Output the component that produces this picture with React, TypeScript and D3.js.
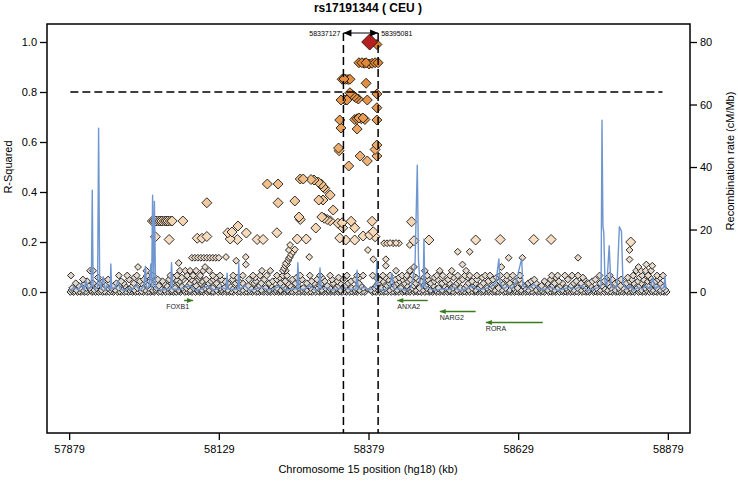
import React, { useEffect, useRef } from 'react';
import * as d3 from 'd3';

const title = 'rs17191344 ( CEU )';
const xLabel = 'Chromosome 15 position (hg18) (kb)';
const yLabel = 'R-Squared';
const yRecLabel = 'Recombination rate (cM/Mb)';

const xTicks = [57879, 58129, 58379, 58629, 58879];
const r2Ticks = [0, 0.2, 0.4, 0.6, 0.8, 1.0];
const recTicks = [0, 20, 40, 60, 80];

const indexSnp: [number, number] = [58381, 1.0];
const regionBounds = [58337.127, 58395.081];
const regionLabels = ['58337127', '58395081'];
const r2Threshold = 0.8;
const thresholdSpan = [57881, 58870];

// SNPs with r2 >= 0.2 : [position kb, r2]
const linkedSnps: [number, number][] = [
  [58393, 0.99],
  [58363, 0.917], [58368, 0.917], [58372, 0.915], [58375, 0.917], [58380, 0.912], [58385, 0.915], [58390, 0.917], [58395, 0.917],
  [58335, 0.851], [58338, 0.852], [58341, 0.851], [58345, 0.85], [58348, 0.851],
  [58375, 0.835], [58393, 0.792],
  [58348, 0.797], [58351, 0.79], [58355, 0.783], [58358, 0.777], [58362, 0.772], [58340, 0.768], [58343, 0.768], [58333, 0.768], [58377, 0.768],
  [58393, 0.737],
  [58356, 0.69], [58360, 0.693], [58363, 0.696], [58367, 0.693], [58370, 0.696], [58373, 0.69], [58393, 0.688], [58331, 0.688],
  [58333, 0.656], [58360, 0.652],
  [58393, 0.588], [58329, 0.576], [58330, 0.565], [58390, 0.57],
  [58365, 0.544], [58393, 0.544], [58377, 0.524], [58346, 0.504],
  [58265, 0.452], [58270, 0.452], [58283, 0.45], [58288, 0.448], [58295, 0.44], [58300, 0.432], [58303, 0.42], [58306, 0.414], [58210, 0.432], [58228, 0.432],
  [58315, 0.388], [58303, 0.368], [58320, 0.328], [58256, 0.364], [58228, 0.357], [58109, 0.357], [58296, 0.368],
  [58263, 0.3], [58265, 0.29], [58301, 0.3], [58305, 0.295], [58310, 0.29], [58315, 0.285], [58291, 0.256], [58335, 0.277], [58350, 0.283],
  [58336, 0.257], [58356, 0.257], [58385, 0.283], [58387, 0.241], [58328, 0.275],
  [58331, 0.216], [58341, 0.208], [58356, 0.208], [58370, 0.224], [58381, 0.228], [58390, 0.221], [58260, 0.212], [58275, 0.212], [58226, 0.237],
  [58144, 0.237], [58151, 0.24], [58148, 0.212], [58160, 0.21], [58161, 0.264], [58175, 0.236], [58193, 0.21], [58203, 0.21],
  [58093, 0.215], [58101, 0.215], [58109, 0.222],
  [58018, 0.284], [58021, 0.284], [58024, 0.284], [58028, 0.284], [58031, 0.284], [58034, 0.284], [58038, 0.284], [58041, 0.284],
  [58044, 0.284], [58048, 0.284], [58051, 0.284], [58069, 0.284],
  [58023, 0.221], [58046, 0.21],
  [58451, 0.281], [58455, 0.205], [58480, 0.208], [58558, 0.208], [58599, 0.21], [58655, 0.21], [58684, 0.21], [58817, 0.2],
];

// SNPs with 0.1 < r2 < 0.2
const midSnps: [number, number][] = [
  [58448, 0.188], [58405, 0.195], [58410, 0.195], [58415, 0.196], [58420, 0.195], [58425, 0.196], [58430, 0.195],
  [58378, 0.168], [58280, 0.14], [58528, 0.161], [58548, 0.161], [58613, 0.137], [58636, 0.137], [58729, 0.137],
  [58387, 0.131], [58408, 0.131], [58815, 0.168], [58815, 0.13], [58062, 0.116],
  [58084, 0.137], [58089, 0.137], [58094, 0.137], [58099, 0.137], [58104, 0.137], [58109, 0.137], [58114, 0.137],
  [58119, 0.137], [58124, 0.137], [58129, 0.137], [58141, 0.14], [58158, 0.125], [58174, 0.14],
  [58236, 0.085], [58238, 0.095], [58240, 0.105], [58241, 0.115], [58243, 0.11], [58245, 0.125], [58246, 0.135],
  [58248, 0.14], [58250, 0.15], [58253, 0.16], [58256, 0.17], [58248, 0.188], [58246, 0.168],
  [57994, 0.1], [58106, 0.1], [58174, 0.11], [58408, 0.105], [58455, 0.1], [58536, 0.11], [58601, 0.1],
  [58830, 0.1], [58843, 0.11], [58853, 0.105],
];

// low r2 SNPs, grouped by the level they sit on
const lowRows: { r2: number; pos: number[] }[] = [
  { r2: 0.0, pos: [57881, 57886, 57893, 57899, 57904, 57910, 57917, 57923, 57928, 57935, 57941, 57946, 57953, 57960, 57966, 57971, 57978, 57985, 57990, 57996, 58003, 58009, 58015, 58021, 58028, 58034, 58040, 58047, 58053, 58058, 58065, 58072, 58078, 58084, 58090, 58097, 58103, 58110, 58116, 58121, 58128, 58135, 58141, 58147, 58153, 58160, 58166, 58172, 58178, 58185, 58191, 58197, 58204, 58210, 58216, 58222, 58229, 58235, 58241, 58247, 58254, 58260, 58266, 58273, 58279, 58285, 58291, 58298, 58304, 58310, 58316, 58323, 58329, 58335, 58342, 58348, 58354, 58360, 58367, 58373, 58386, 58392, 58398, 58405, 58411, 58417, 58423, 58430, 58436, 58442, 58448, 58455, 58461, 58467, 58473, 58480, 58486, 58492, 58498, 58505, 58511, 58517, 58523, 58530, 58536, 58542, 58548, 58555, 58561, 58567, 58573, 58580, 58586, 58592, 58598, 58605, 58611, 58617, 58623, 58630, 58636, 58642, 58648, 58655, 58661, 58667, 58673, 58680, 58686, 58692, 58698, 58705, 58711, 58717, 58723, 58730, 58736, 58742, 58748, 58755, 58761, 58767, 58773, 58780, 58786, 58792, 58798, 58805, 58811, 58817, 58823, 58830, 58836, 58842, 58848, 58855, 58861, 58867, 58873, 58877] },
  { r2: 0.003, pos: [57888, 57896, 57907, 57919, 57931, 57938, 57950, 57963, 57974, 57982, 57993, 58000, 58012, 58019, 58031, 58044, 58050, 58062, 58075, 58081, 58094, 58100, 58113, 58119, 58132, 58144, 58150, 58163, 58175, 58182, 58194, 58201, 58213, 58225, 58232, 58244, 58251, 58263, 58270, 58282, 58295, 58301, 58313, 58320, 58332, 58339, 58351, 58357, 58370, 58384, 58389, 58401, 58408, 58420, 58426, 58439, 58445, 58458, 58464, 58477, 58483, 58495, 58502, 58514, 58520, 58533, 58539, 58552, 58558, 58570, 58577, 58589, 58595, 58608, 58614, 58627, 58633, 58645, 58652, 58664, 58670, 58683, 58689, 58702, 58708, 58720, 58727, 58739, 58745, 58758, 58764, 58777, 58783, 58795, 58802, 58814, 58820, 58833, 58839, 58852, 58858, 58870] },
  { r2: 0.008, pos: [57883, 57891, 57902, 57915, 57921, 57933, 57948, 57956, 57968, 57980, 57988, 58006, 58018, 58024, 58038, 58051, 58062, 58070, 58081, 58093, 58101, 58113, 58125, 58133, 58144, 58157, 58169, 58180, 58188, 58200, 58213, 58224, 58232, 58244, 58257, 58268, 58276, 58288, 58301, 58312, 58320, 58332, 58345, 58356, 58364, 58383, 58395, 58403, 58414, 58427, 58439, 58447, 58458, 58470, 58483, 58491, 58502, 58514, 58527, 58535, 58546, 58558, 58571, 58579, 58590, 58602, 58615, 58623, 58634, 58646, 58659, 58667, 58678, 58690, 58703, 58711, 58722, 58734, 58747, 58755, 58766, 58778, 58791, 58799, 58810, 58822, 58835, 58843, 58854, 58866, 58875] },
  { r2: 0.016, pos: [57884, 57897, 57908, 57913, 57925, 57937, 57944, 57950, 57962, 57975, 57982, 57993, 58001, 58012, 58025, 58031, 58044, 58056, 58068, 58075, 58087, 58094, 58106, 58119, 58131, 58138, 58150, 58163, 58175, 58182, 58194, 58207, 58219, 58226, 58238, 58250, 58263, 58270, 58282, 58295, 58307, 58314, 58326, 58338, 58351, 58358, 58370, 58389, 58401, 58408, 58420, 58433, 58445, 58452, 58464, 58476, 58489, 58496, 58508, 58520, 58533, 58540, 58552, 58564, 58577, 58584, 58596, 58608, 58621, 58628, 58640, 58652, 58665, 58672, 58684, 58696, 58709, 58716, 58728, 58740, 58753, 58760, 58772, 58784, 58797, 58804, 58816, 58828, 58841, 58848, 58860, 58871] },
  { r2: 0.025, pos: [57895, 57911, 57927, 57940, 57953, 57972, 57985, 58010, 58029, 58042, 58066, 58078, 58091, 58110, 58129, 58147, 58166, 58178, 58197, 58216, 58235, 58248, 58261, 58280, 58298, 58310, 58329, 58341, 58366, 58392, 58410, 58423, 58443, 58455, 58474, 58487, 58505, 58524, 58543, 58555, 58567, 58586, 58605, 58618, 58637, 58655, 58668, 58687, 58700, 58718, 58737, 58750, 58769, 58781, 58800, 58813, 58832, 58845, 58858, 58869] },
  { r2: 0.035, pos: [57890, 57905, 57919, 57931, 57958, 57970, 57987, 58000, 58018, 58037, 58050, 58062, 58081, 58099, 58112, 58125, 58144, 58157, 58169, 58188, 58200, 58213, 58232, 58244, 58257, 58276, 58288, 58301, 58320, 58332, 58345, 58363, 58395, 58414, 58427, 58439, 58458, 58470, 58483, 58502, 58514, 58527, 58546, 58558, 58571, 58590, 58602, 58615, 58634, 58646, 58659, 58678, 58690, 58703, 58722, 58734, 58747, 58766, 58778, 58791, 58810, 58822, 58835, 58854, 58866] },
  { r2: 0.043, pos: [57909, 57936, 57966, 57997, 58014, 58035, 58064, 58088, 58101, 58116, 58139, 58162, 58191, 58219, 58240, 58263, 58284, 58306, 58327, 58350, 58403, 58418, 58431, 58445, 58467, 58489, 58508, 58531, 58552, 58579, 58598, 58625, 58651, 58673, 58697, 58726, 58753, 58773, 58796, 58816, 58829, 58845, 58859] },
  { r2: 0.05, pos: [57902, 57944, 57979, 58004, 58027, 58046, 58058, 58070, 58083, 58095, 58108, 58120, 58133, 58152, 58179, 58205, 58226, 58252, 58268, 58293, 58318, 58336, 58357, 58397, 58412, 58424, 58436, 58449, 58461, 58478, 58494, 58512, 58536, 58560, 58587, 58610, 58631, 58656, 58683, 58712, 58739, 58758, 58786, 58801, 58819, 58838, 58851, 58863] },
  { r2: 0.058, pos: [57927, 57988, 58017, 58053, 58067, 58079, 58097, 58124, 58160, 58190, 58231, 58259, 58301, 58329, 58364, 58392, 58407, 58430, 58441, 58458, 58472, 58489, 58521, 58545, 58569, 58593, 58616, 58692, 58737, 58779, 58812, 58832, 58849, 58866] },
  { r2: 0.066, pos: [57882, 57962, 57976, 57992, 58009, 58019, 58048, 58059, 58076, 58086, 58098, 58119, 58131, 58153, 58169, 58186, 58198, 58209, 58226, 58236, 58243, 58265, 58281, 58298, 58315, 58343, 58360, 58370, 58386, 58403, 58415, 58435, 58443, 58453, 58477, 58493, 58503, 58515, 58528, 58540, 58548, 58560, 58574, 58582, 58599, 58610, 58620, 58632, 58685, 58695, 58707, 58719, 58729, 58765, 58782, 58821, 58836, 58846, 58861, 58871] },
  { r2: 0.085, pos: [57914, 57919, 58008, 58064, 58073, 58081, 58091, 58103, 58113, 58201, 58215, 58241, 58425, 58448, 58473, 58498, 58518, 58542, 58826, 58834, 58842, 58851] },
];

const genes = [
  { name: 'FOXB1', start: 58071, end: 58086, strand: '+', row: 0 },
  { name: 'ANXA2', start: 58427, end: 58478, strand: '-', row: 0 },
  { name: 'NARG2', start: 58498, end: 58558, strand: '-', row: 1 },
  { name: 'RORA', start: 58575, end: 58670, strand: '-', row: 2 },
];

// recombination rate: [position kb, cM/Mb]
const recRate: [number, number][] = [
  [57881, 0.5], [57887, 1.5], [57894, 0.8], [57901, 2.5], [57904, 0.5], [57907, 3.6], [57911, 1], [57916, 1.5], [57917.6, 32.6],
  [57919, 2], [57922, 1], [57926.5, 1.5], [57928.2, 52.4], [57930, 3], [57932, 1], [57936, 4.9], [57939, 0.5], [57942, 2],
  [57947.5, 1], [57948.6, 9], [57950, 1], [57956, 1.5], [57961, 3.6], [57964, 1], [57971, 0.5], [57977.5, 1.2], [57984, 0.8],
  [57991, 2], [57997.5, 0.6], [58004, 2], [58006.4, 8.3], [58008, 1], [58012.6, 2], [58015.4, 9], [58016.7, 1], [58018.4, 31],
  [58020, 2], [58021.4, 29], [58023.4, 1.5], [58027.6, 1], [58034, 0.5], [58041, 1], [58048.4, 1], [58050, 9.4], [58051.8, 1],
  [58061, 0.8], [58071, 1.5], [58081, 2], [58091, 0.5], [58101, 1], [58111, 2], [58121, 0.6], [58131, 1.5], [58141, 1],
  [58142.8, 6], [58144.4, 1], [58152.8, 0.8], [58161, 1], [58162.3, 9.3], [58163.6, 1], [58173, 2], [58181, 0.5], [58191, 1],
  [58201, 1.5], [58211, 0.6], [58221, 1], [58231, 2], [58241, 0.5], [58251, 1], [58259.6, 1], [58261, 9.4], [58263, 1],
  [58271, 0.8], [58281, 2], [58291, 0.5], [58296, 1], [58298, 7.7], [58300, 1], [58308, 1.5], [58318, 0.6], [58328, 1],
  [58338, 1.5], [58348, 0.8], [58358, 1], [58360, 7], [58361.5, 1], [58371.5, 1.5], [58381.5, 0.8], [58391.5, 2], [58393, 10],
  [58395, 1], [58405, 0.5], [58415, 2], [58418, 6], [58421.5, 1], [58431.5, 1], [58441.6, 0.5], [58450, 1.5], [58456.6, 8],
  [58460.5, 40.6], [58462.5, 10], [58465, 3], [58468, 1], [58470.5, 2], [58471.6, 17], [58473, 2], [58481.6, 1], [58491.6, 0.5],
  [58501.6, 1], [58511.7, 0.8], [58521.7, 1.5], [58531.7, 0.5], [58541.7, 1], [58551.8, 2], [58561.8, 0.8], [58571.8, 1],
  [58581.8, 1.5], [58591.8, 3], [58596.8, 10.6], [58598.5, 3], [58605, 1], [58612, 2], [58618.5, 1], [58625, 3], [58634.8, 10.6],
  [58637, 2], [58645, 1], [58655, 2.5], [58665, 0.8], [58675, 1], [58685, 1.5], [58695, 0.5], [58705, 1], [58715, 1.5],
  [58725, 1], [58735, 2], [58745, 0.5], [58755, 1], [58765, 1.5], [58767.5, 2], [58769, 55], [58770.6, 21], [58772, 19],
  [58774, 3], [58777, 2], [58781, 14.8], [58784, 2], [58789, 1], [58794, 2], [58798, 20.9], [58801.5, 19.5], [58804, 3],
  [58809, 1], [58815.5, 2], [58822, 0.5], [58829, 1.5], [58836, 1], [58842, 2], [58849, 1], [58854, 4.5], [58857.5, 1],
  [58862.5, 2], [58867.5, 1], [58872.5, 1.5], [58874, 5], [58876, 1],
];

const FONT = '"Liberation Sans", Arial, Helvetica, sans-serif';

const diamond = (cx: number, cy: number, h: number) =>
  `M${cx},${cy - h}L${cx + h},${cy}L${cx},${cy + h}L${cx - h},${cy}Z`;

const App = () => {
  const svgRef = useRef<SVGSVGElement>(null);

  useEffect(() => {
    const svg = d3.select(svgRef.current);
    svg.selectAll('*').remove();

    const box = { left: 47, right: 690, top: 24, bottom: 433 };

    const x = d3.scaleLinear().domain([57842, 58916]).range([box.left, box.right]);
    const y = d3.scaleLinear().domain([-0.564, 1.072]).range([box.bottom, box.top]);
    const yRec = d3.scaleLinear().domain([-45.1, 85.76]).range([box.bottom, box.top]);

    const color = d3.scaleLinear<string>()
      .domain([0, 0.2, 0.45, 0.7, 0.95])
      .range(['#dcd7d2', '#f7dfc4', '#f0bd86', '#e89b52', '#df832f']);

    svg.append('rect').attr('width', 738).attr('height', 481).attr('fill', '#fff');

    // points, lowest r2 first
    const points: [number, number][] = [
      ...lowRows.flatMap(r => r.pos.map(p => [p, r.r2] as [number, number])),
      ...midSnps,
      ...linkedSnps,
    ].sort((a, b) => a[1] - b[1]);

    svg.append('g')
      .selectAll('path')
      .data(points)
      .enter().append('path')
      .attr('d', d => diamond(x(d[0]), y(d[1]), d[1] >= 0.2 ? 5 : 3.4))
      .attr('fill', d => color(d[1]))
      .attr('stroke', d => (d[1] >= 0.2 ? '#1a1a1a' : '#2a2a2a'))
      .attr('stroke-width', d => (d[1] >= 0.2 ? 0.9 : 1));

    // index SNP
    svg.append('path')
      .attr('d', diamond(x(indexSnp[0]), y(indexSnp[1]), 8))
      .attr('fill', '#b3201f')
      .attr('stroke', '#2a0a0a')
      .attr('stroke-width', 0.9);

    // recombination rate
    const recLine = d3.line<[number, number]>()
      .x(d => x(d[0]))
      .y(d => yRec(d[1]));

    svg.append('path')
      .datum(recRate)
      .attr('fill', 'none')
      .attr('stroke', '#7096d0')
      .attr('stroke-width', 1.4)
      .attr('stroke-linejoin', 'round')
      .attr('d', recLine);

    // threshold line
    svg.append('line')
      .attr('x1', x(thresholdSpan[0]))
      .attr('x2', x(thresholdSpan[1]))
      .attr('y1', y(r2Threshold))
      .attr('y2', y(r2Threshold))
      .attr('stroke', '#000')
      .attr('stroke-width', 1.5)
      .attr('stroke-dasharray', '8,4');

    // region boundaries
    const bracketY = 33;
    regionBounds.forEach(b => {
      svg.append('line')
        .attr('x1', x(b)).attr('x2', x(b))
        .attr('y1', bracketY).attr('y2', box.bottom)
        .attr('stroke', '#000')
        .attr('stroke-width', 1.5)
        .attr('stroke-dasharray', '8,4');
    });

    const bx0 = x(regionBounds[0]);
    const bx1 = x(regionBounds[1]);
    svg.append('line')
      .attr('x1', bx0).attr('x2', bx1)
      .attr('y1', bracketY).attr('y2', bracketY)
      .attr('stroke', '#000').attr('stroke-width', 1);
    svg.append('path')
      .attr('d', `M${bx0},${bracketY}L${bx0 + 8},${bracketY - 3.5}L${bx0 + 8},${bracketY + 3.5}Z`)
      .attr('fill', '#000');
    svg.append('path')
      .attr('d', `M${bx1},${bracketY}L${bx1 - 8},${bracketY - 3.5}L${bx1 - 8},${bracketY + 3.5}Z`)
      .attr('fill', '#000');

    svg.append('text')
      .attr('x', bx0 - 3).attr('y', bracketY + 2.5)
      .attr('text-anchor', 'end')
      .style('font-family', FONT).style('font-size', '7px')
      .text(regionLabels[0]);
    svg.append('text')
      .attr('x', bx1 + 3).attr('y', bracketY + 2.5)
      .attr('text-anchor', 'start')
      .style('font-family', FONT).style('font-size', '7px')
      .text(regionLabels[1]);

    // genes
    const geneColor = '#3b7a1d';
    const gg = svg.append('g');
    genes.forEach(g => {
      const gy = 300.5 + g.row * 11;
      const xs = x(g.start);
      const xe = x(g.end);
      gg.append('line')
        .attr('x1', xs).attr('x2', xe)
        .attr('y1', gy).attr('y2', gy)
        .attr('stroke', geneColor).attr('stroke-width', 1.4);
      const tip = g.strand === '+' ? xe : xs;
      const dir = g.strand === '+' ? -1 : 1;
      gg.append('path')
        .attr('d', `M${tip},${gy}L${tip + dir * 6},${gy - 2.6}L${tip + dir * 6},${gy + 2.6}Z`)
        .attr('fill', geneColor);
      gg.append('text')
        .attr('x', g.strand === '+' ? xe - 4 : xs)
        .attr('y', gy + 8.5)
        .attr('text-anchor', g.strand === '+' ? 'end' : 'start')
        .style('font-family', FONT).style('font-size', '7px')
        .style('fill', '#222')
        .text(g.name);
    });

    // box
    svg.append('rect')
      .attr('x', box.left).attr('y', box.top)
      .attr('width', box.right - box.left).attr('height', box.bottom - box.top)
      .attr('fill', 'none').attr('stroke', '#000').attr('stroke-width', 1.5);

    // axes
    const styleAxis = (g: d3.Selection<SVGGElement, unknown, null, undefined>) => {
      g.select('.domain').remove();
      g.selectAll('line').attr('stroke', '#000').attr('stroke-width', 1.3);
      g.selectAll('text').style('font-family', FONT).style('font-size', '11px').style('fill', '#000');
    };

    svg.append('g')
      .attr('transform', `translate(${box.left},0)`)
      .call(d3.axisLeft(y).tickValues(r2Ticks).tickFormat(d3.format('.1f')).tickSize(7).tickPadding(3))
      .call(styleAxis);

    svg.append('g')
      .attr('transform', `translate(${box.right},0)`)
      .call(d3.axisRight(yRec).tickValues(recTicks).tickFormat(d3.format('d')).tickSize(7).tickPadding(3))
      .call(styleAxis);

    svg.append('g')
      .attr('transform', `translate(0,${box.bottom})`)
      .call(d3.axisBottom(x).tickValues(xTicks).tickFormat(d3.format('d')).tickSize(7).tickPadding(5))
      .call(styleAxis);

    // labels
    svg.append('text')
      .attr('x', 368).attr('y', 12)
      .attr('text-anchor', 'middle')
      .style('font-family', FONT).style('font-size', '12px').style('font-weight', 'bold')
      .text(title);

    svg.append('text')
      .attr('x', 368).attr('y', 473)
      .attr('text-anchor', 'middle')
      .style('font-family', FONT).style('font-size', '11px')
      .text(xLabel);

    svg.append('text')
      .attr('transform', 'translate(12,167) rotate(-90)')
      .attr('text-anchor', 'middle')
      .style('font-family', FONT).style('font-size', '11px')
      .text(yLabel);

    svg.append('text')
      .attr('transform', 'translate(734,161) rotate(-90)')
      .attr('text-anchor', 'middle')
      .style('font-family', FONT).style('font-size', '11px')
      .text(yRecLabel);
  }, []);

  return (
    <svg
      ref={svgRef}
      width={738}
      height={481}
      style={{ position: 'absolute', left: 0, top: 0, display: 'block' }}
    />
  );
};

export default App;
